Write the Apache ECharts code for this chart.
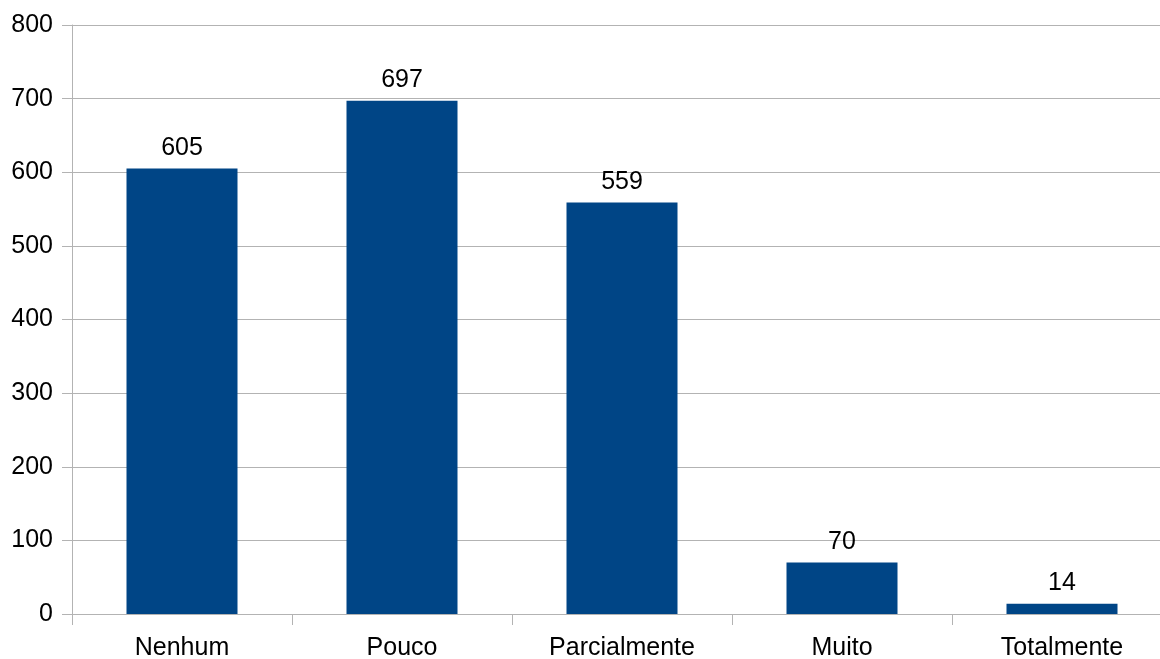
<!DOCTYPE html>
<html>
<head>
<meta charset="utf-8">
<script src="https://cdn.jsdelivr.net/npm/echarts@6/dist/echarts.min.js"></script>
<style>
  html, body { margin: 0; padding: 0; background: #ffffff; overflow: hidden; }
  /* plot area runs past the right edge of the window */
  #chart { width: 1172px; height: 659px; }
</style>
</head>
<body>
<div id="chart"></div>
<script>
// Response categories and counts
const categories = ['Nenhum', 'Pouco', 'Parcialmente', 'Muito', 'Totalmente'];
const counts = [605, 697, 559, 70, 14];

const axisGray = '#b3b3b3';
const textFont = '"Liberation Sans", Arial, sans-serif';

const chart = echarts.init(document.getElementById('chart'), null, { renderer: 'canvas' });
chart.setOption({
  animation: false,
  backgroundColor: '#ffffff',
  grid: { left: 72, top: 25, right: 0, bottom: 45, containLabel: false, outerBoundsMode: 'none' },
  xAxis: {
    type: 'category',
    data: categories,
    boundaryGap: true,
    axisLine: { show: true, lineStyle: { color: axisGray, width: 1 } },
    axisTick: { show: true, length: 11, alignWithLabel: false, lineStyle: { color: axisGray } },
    axisLabel: { color: '#000000', fontSize: 25, fontFamily: textFont, margin: 22 },
    splitLine: { show: false }
  },
  yAxis: {
    type: 'value',
    min: 0,
    max: 800,
    interval: 100,
    axisLine: { show: true, lineStyle: { color: axisGray, width: 1 } },
    axisTick: { show: true, length: 10, lineStyle: { color: axisGray } },
    axisLabel: { color: '#000000', fontSize: 25, fontFamily: textFont, margin: 19 },
    splitLine: { show: true, lineStyle: { color: axisGray, width: 1 } }
  },
  series: [{
    type: 'bar',
    data: counts,
    barWidth: 111,
    itemStyle: { color: '#004586' },
    label: {
      show: true,
      position: 'top',
      distance: 8,
      color: '#000000',
      fontSize: 25,
      fontFamily: textFont
    }
  }]
});
</script>
</body>
</html>
